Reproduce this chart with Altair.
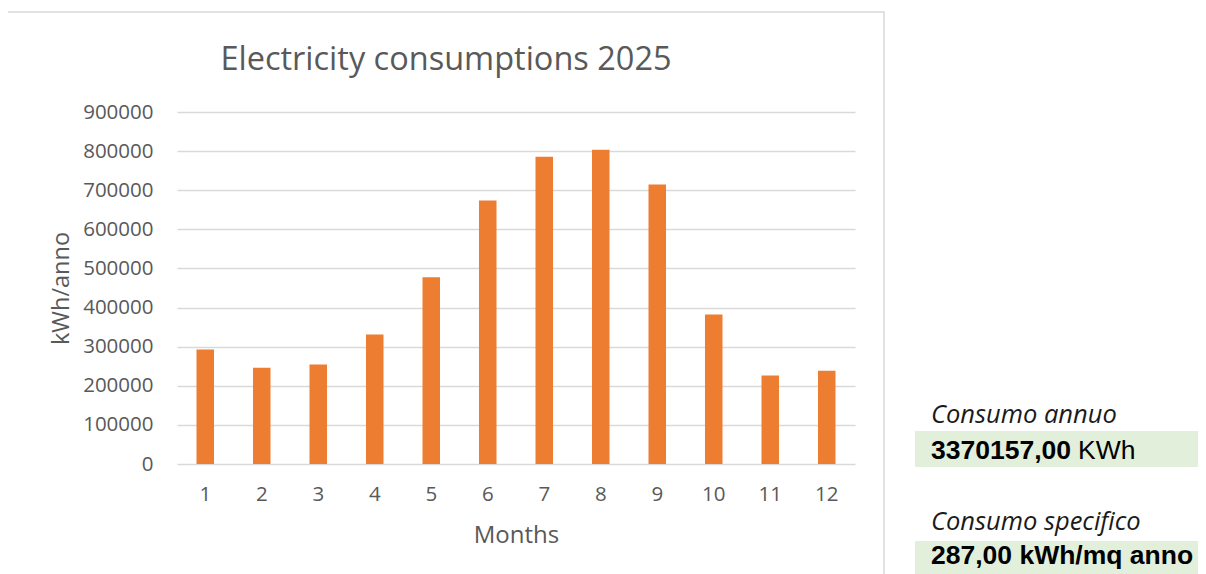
import altair as alt
import pandas as pd

# ---- data ----
months = [1, 2, 3, 4, 5, 6, 7, 8, 9, 10, 11, 12]
consumption = [292500, 246400, 254100, 330900, 477500, 673800,
               785500, 803500, 714700, 382000, 226000, 238700]
y_ticks = [0, 100000, 200000, 300000, 400000, 500000, 600000, 700000, 800000, 900000]

chart_title = "Electricity consumptions 2025"
x_title = "Months"
y_title = "kWh/anno"
panel_labels = ["Consumo annuo", "Consumo specifico"]
annual_value = "3370157,00"
annual_unit = "KWh"
specific_value = "287,00 kWh/mq anno"

df = pd.DataFrame({"Month": months, "kWh": consumption})

AXIS_FONT = "Open Sans"
GREY = "#595959"
GRID = "#d9d9d9"

bars = alt.Chart(df).mark_bar(color="#ED7D31").encode(
    x=alt.X(
        "Month:O",
        scale=alt.Scale(paddingInner=0.69, paddingOuter=0.345),
        axis=alt.Axis(
            title=x_title, labelAngle=0, ticks=False, domain=False,
            labelFont=AXIS_FONT, labelFontSize=20.5, labelColor=GREY,
            labelPadding=20,
            titleFont=AXIS_FONT, titleFontSize=24, titleColor=GREY,
            titleFontWeight="normal", titleBaseline="alphabetic",
            titleY=78,
        ),
    ),
    y=alt.Y(
        "kWh:Q",
        scale=alt.Scale(domain=[0, 900000], nice=False),
        axis=alt.Axis(
            title=y_title, values=y_ticks, format="d", ticks=False, domain=False,
            grid=True, gridColor=GRID, gridWidth=1.5,
            labelFont=AXIS_FONT, labelFontSize=20.5, labelColor=GREY,
            labelPadding=24,
            titleFont=AXIS_FONT, titleFontSize=23.5, titleColor=GREY,
            titleFontWeight="normal", titleBaseline="middle",
            titleAngle=270, titleAlign="center",
            titleX=-116, titleY=176,
        ),
    ),
)

one = pd.DataFrame({"k": [0]})

border = alt.Chart(one).mark_rect(
    fillOpacity=0, stroke="#d9d9d9", strokeWidth=1.5
).encode(
    x=alt.value(-170), x2=alt.value(707), y=alt.value(-100), y2=alt.value(480)
)

title = alt.Chart(pd.DataFrame({"t": [chart_title]})).mark_text(
    font=AXIS_FONT, fontSize=32.5, color=GREY, align="center", baseline="alphabetic"
).encode(x=alt.value(269), y=alt.value(-42), text="t:N")

box1 = alt.Chart(one).mark_rect(color="#e2efda").encode(
    x=alt.value(738), x2=alt.value(1021), y=alt.value(319), y2=alt.value(355)
)
box2 = alt.Chart(one).mark_rect(color="#e2efda").encode(
    x=alt.value(738), x2=alt.value(1021), y=alt.value(429), y2=alt.value(470)
)

lab_df = pd.DataFrame({"t": panel_labels, "yy": [311, 418]})
labels = alt.Chart(lab_df).mark_text(
    font=AXIS_FONT, fontSize=25.5, fontStyle="italic", color="#1a1a1a",
    align="left", baseline="alphabetic"
).encode(x=alt.value(754), y=alt.Y("yy:Q", scale=None), text="t:N")

val1 = alt.Chart(pd.DataFrame({"t": [annual_value]})).mark_text(
    font="Liberation Sans", fontSize=26.5, fontWeight="bold", color="#000000",
    align="left", baseline="alphabetic"
).encode(x=alt.value(754), y=alt.value(347), text="t:N")

unit1 = alt.Chart(pd.DataFrame({"t": [annual_unit]})).mark_text(
    font="Liberation Sans", fontSize=26.5, color="#000000",
    align="left", baseline="alphabetic"
).encode(x=alt.value(901), y=alt.value(347), text="t:N")

val2 = alt.Chart(pd.DataFrame({"t": [specific_value]})).mark_text(
    font="Liberation Sans", fontSize=26.5, fontWeight="bold", color="#000000",
    align="left", baseline="alphabetic"
).encode(x=alt.value(754), y=alt.value(452), text="t:N")

chart = alt.layer(border, title, bars, box1, box2, labels, val1, unit1, val2).properties(
    width=678,
    height=352,
    padding={"left": 169, "top": 104, "right": 343, "bottom": 110},
    autosize=alt.AutoSizeParams(type="none"),
).configure_view(stroke=None)

chart.save("out.html", embed_options={"renderer": "svg", "actions": False})
